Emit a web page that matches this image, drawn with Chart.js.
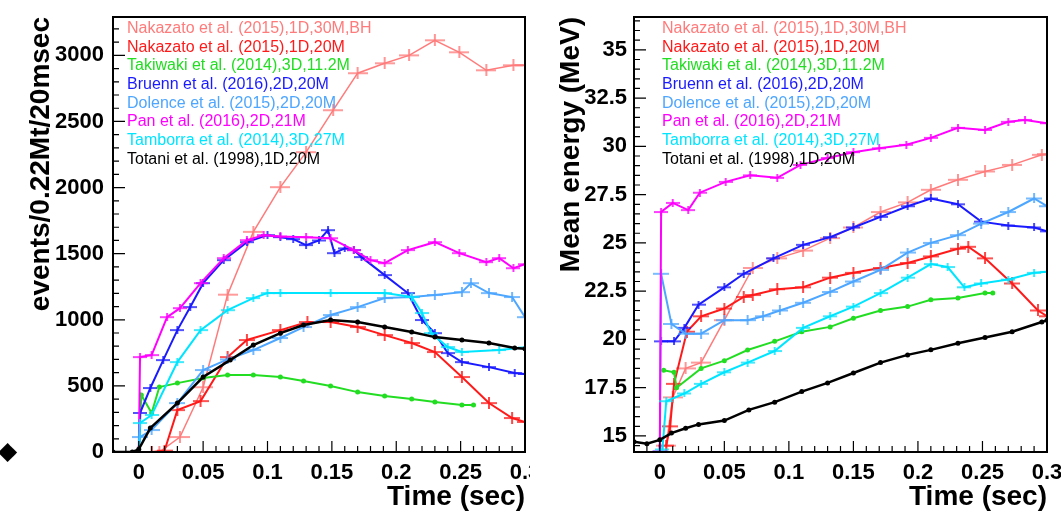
<!DOCTYPE html>
<html><head><meta charset="utf-8">
<script src="https://cdn.jsdelivr.net/npm/chart.js@4/dist/chart.umd.min.js"></script>
<style>
html,body{margin:0;padding:0;background:#fff;width:1061px;height:515px;overflow:hidden;position:relative}
#c1{position:absolute;left:0;top:0}
#c2{position:absolute;left:530px;top:0}
#dia{position:absolute;left:-2px;top:436px;font:25px "DejaVu Sans";color:#000;line-height:30px}
</style></head><body>
<canvas id="c1" width="530" height="515"></canvas>
<canvas id="c2" width="531" height="515"></canvas>
<div id="dia">◆</div>
<script>
// ---------- labels / colours ----------
const seriesLabels = ["Nakazato et al. (2015),1D,30M,BH","Nakazato et al. (2015),1D,20M","Takiwaki et al. (2014),3D,11.2M","Bruenn et al. (2016),2D,20M","Dolence et al. (2015),2D,20M","Pan et al. (2016),2D,21M","Tamborra et al. (2014),3D,27M","Totani et al. (1998),1D,20M"];
const seriesColors = ["#ff7b7b","#ff1a1a","#22dd22","#1a1aff","#4da6ff","#ff00ff","#00e5ff","#000000"];

// ---------- axes ----------
const xTicks = [0,0.05,0.1,0.15,0.2,0.25,0.3];
const xTickLabels = ["0","0.05","0.1","0.15","0.2","0.25","0.3"];
const rateTicks = [0,500,1000,1500,2000,2500,3000];
const rateTickLabels = ["0","500","1000","1500","2000","2500","3000"];
const energyTicks = [15,17.5,20,22.5,25,27.5,30,32.5,35];
const energyTickLabels = ["15","17.5","20","22.5","25","27.5","30","32.5","35"];

// ---------- left panel: events / 0.22Mt / 20 msec ----------
const rNak30T = [0.0,0.016,0.032,0.05,0.069,0.089,0.11,0.13,0.151,0.17,0.191,0.21,0.23,0.249,0.27,0.291,0.3];
const rNak30V = [0,0,113,490,1190,1665,2003,2268,2585,2865,2940,3000,3114,3023,2887,2925,2925];
const rNak20T = [0,0.01,0.02,0.03,0.048,0.069,0.084,0.11,0.131,0.149,0.17,0.191,0.212,0.23,0.251,0.272,0.29,0.3];
const rNak20V = [0,0,10,317,385,718,847,922,983,983,945,884,824,756,567,370,257,227];
const rTakT = [0,0.002,0.01,0.016,0.03,0.05,0.069,0.089,0.11,0.128,0.149,0.17,0.191,0.212,0.23,0.251,0.26];
const rTakV = [0,431,295,491,521,559,582,582,567,537,499,453,423,400,378,355,355];
const rBruT = [0,0.001,0.009,0.019,0.03,0.04,0.05,0.066,0.084,0.1,0.11,0.12,0.13,0.14,0.147,0.152,0.16,0.167,0.173,0.191,0.209,0.22,0.23,0.24,0.251,0.272,0.292,0.3];
const rBruV = [0,295,484,695,922,1096,1277,1451,1587,1640,1625,1610,1565,1600,1678,1504,1540,1527,1474,1338,1202,998,899,748,680,642,597,590];
const rDolT = [0,0.001,0.01,0.03,0.05,0.069,0.089,0.11,0.128,0.149,0.17,0.191,0.212,0.23,0.251,0.258,0.272,0.29,0.3];
const rDolV = [0,113,166,370,620,700,771,862,945,1036,1096,1164,1172,1187,1209,1277,1202,1172,1020];
const rPanT = [0,0.001,0.01,0.022,0.032,0.048,0.066,0.084,0.097,0.11,0.13,0.149,0.167,0.18,0.191,0.209,0.23,0.249,0.27,0.28,0.291,0.3];
const rPanV = [0,718,733,1020,1088,1277,1466,1602,1640,1630,1625,1617,1527,1451,1428,1527,1587,1504,1436,1466,1390,1420];
const rTamT = [0,0.001,0.01,0.03,0.048,0.069,0.089,0.1,0.11,0.149,0.191,0.212,0.22,0.227,0.24,0.251,0.28,0.3];
const rTamV = [0,219,280,680,922,1073,1164,1202,1202,1202,1202,1172,1051,899,794,756,771,790];
const rTotT = [-0.02,-0.005,0,0.009,0.03,0.05,0.071,0.089,0.11,0.128,0.149,0.17,0.191,0.212,0.23,0.251,0.272,0.292,0.3];
const rTotV = [0,0,20,181,370,567,695,809,899,960,998,983,945,907,869,847,824,786,780];

// ---------- right panel: mean energy (MeV) ----------
const eNak30T = [0.005,0.01,0.02,0.032,0.05,0.072,0.091,0.111,0.132,0.15,0.171,0.192,0.21,0.231,0.252,0.273,0.296,0.3];
const eNak30V = [14.5,17.0,18.5,18.8,21.0,23.7,24.2,24.6,25.25,25.8,26.6,27.1,27.75,28.27,28.7,29.04,29.56,29.6];
const eNak20T = [0.005,0.008,0.011,0.021,0.032,0.05,0.065,0.072,0.091,0.111,0.132,0.15,0.171,0.192,0.21,0.231,0.239,0.252,0.273,0.293,0.3];
const eNak20V = [14.5,15.5,17.7,20.4,21.2,21.6,22.2,22.3,22.6,22.7,23.2,23.45,23.7,23.96,24.3,24.7,24.8,24.2,22.9,21.5,21.2];
const eTakT = [0.003,0.011,0.013,0.032,0.05,0.068,0.089,0.11,0.132,0.15,0.171,0.192,0.21,0.231,0.252,0.258];
const eTakV = [18.4,18.3,17.5,18.5,18.9,19.45,19.9,20.4,20.65,21.1,21.5,21.7,22.05,22.15,22.4,22.4];
const eBruT = [0.001,0.011,0.019,0.03,0.05,0.065,0.088,0.111,0.132,0.15,0.171,0.192,0.21,0.231,0.249,0.27,0.29,0.3];
const eBruV = [19.9,19.9,20.6,21.8,22.7,23.4,24.2,24.9,25.3,25.8,26.35,26.9,27.3,27.0,26.1,25.9,25.8,25.6];
const eDolT = [0.0,0.001,0.009,0.02,0.032,0.05,0.068,0.08,0.093,0.111,0.132,0.15,0.171,0.192,0.21,0.231,0.249,0.27,0.29,0.3];
const eDolV = [14.2,23.4,20.8,20.3,20.3,21.0,21.0,21.2,21.5,21.9,22.46,23.0,23.6,24.5,25.0,25.4,26.0,26.6,27.3,26.9];
const ePanT = [0.0,0.001,0.01,0.022,0.031,0.051,0.07,0.091,0.109,0.13,0.15,0.17,0.191,0.21,0.231,0.252,0.27,0.283,0.3];
const ePanV = [14.2,26.6,27.07,26.7,27.6,28.16,28.5,28.37,29.04,29.4,29.7,29.9,30.08,30.44,30.96,30.85,31.27,31.37,31.2];
const eTamT = [0.002,0.005,0.019,0.032,0.05,0.068,0.089,0.111,0.132,0.15,0.171,0.192,0.21,0.223,0.236,0.249,0.27,0.29,0.3];
const eTamV = [14.3,16.8,17.2,17.7,18.3,18.8,19.4,20.6,21.2,21.7,22.4,23.2,23.9,23.75,22.7,22.9,23.1,23.45,23.5];
const eTotT = [-0.02,-0.01,0.0,0.009,0.02,0.03,0.05,0.069,0.089,0.11,0.13,0.15,0.171,0.192,0.21,0.231,0.252,0.273,0.296,0.3];
const eTotV = [14.7,14.6,14.8,15.15,15.4,15.6,15.8,16.35,16.75,17.3,17.75,18.26,18.8,19.2,19.46,19.8,20.1,20.4,20.9,21.0];

const rateSeries = [[rNak30T,rNak30V],[rNak20T,rNak20V],[rTakT,rTakV],[rBruT,rBruV],[rDolT,rDolV],[rPanT,rPanV],[rTamT,rTamV],[rTotT,rTotV]];
const energySeries = [[eNak30T,eNak30V],[eNak20T,eNak20V],[eTakT,eTakV],[eBruT,eBruV],[eDolT,eDolV],[ePanT,ePanV],[eTamT,eTamV],[eTotT,eTotV]];

// ---------- styling ----------
const markerSize = [[20,12],[16,12],null,[14,8],[16,10],[14,8],[14,8],null];
const lineW = [1.5,2,2,2,2,2,2,2.5];

function crossImg(color,w,h){
  const c=document.createElement('canvas'); c.width=w; c.height=h;
  const g=c.getContext('2d'); g.strokeStyle=color; g.lineWidth=1.6;
  g.beginPath(); g.moveTo(0,h/2); g.lineTo(w,h/2); g.moveTo(w/2,0); g.lineTo(w/2,h); g.stroke();
  return c;
}

function buildDatasets(series){
  return series.map((s,i)=>{
    const ms = markerSize[i];
    return {
      label: seriesLabels[i],
      data: s[0].map((t,k)=>({x:t,y:s[1][k]})),
      borderColor: seriesColors[i],
      backgroundColor: seriesColors[i],
      borderWidth: lineW[i],
      pointStyle: ms ? crossImg(seriesColors[i],ms[0],ms[1]) : 'circle',
      pointRadius: ms ? 4 : 2.5,
      pointBorderWidth: 0,
      tension: 0,
      order: 7-i
    };
  });
}

const textLegend = {
  id:'textLegend',
  afterDatasetsDraw(chart,args,o){
    const ctx=chart.ctx,a=chart.chartArea;
    ctx.save();
    ctx.font='16px "Liberation Sans", Arial, sans-serif';
    ctx.textBaseline='middle'; ctx.textAlign='left';
    chart.data.datasets.forEach((ds,i)=>{
      ctx.fillStyle=ds.borderColor;
      ctx.fillText(ds.label,a.left+o.dx,a.top+o.dy+i*o.step);
    });
    ctx.restore();
  }
};

const frameTicks = {
  id:'frameTicks',
  afterDatasetsDraw(chart,args,o){
    const ctx=chart.ctx,a=chart.chartArea,x=chart.scales.x,y=chart.scales.y;
    ctx.save();
    ctx.strokeStyle='#000'; ctx.lineWidth=1.2;
    ctx.beginPath();
    const ny=Math.round((o.yTop-o.yStart)/o.yMinor);
    for(let k=0;k<=ny;k++){
      const v=o.yStart+k*o.yMinor;
      if(v<y.min||v>y.max) continue;
      const r=v/o.yMajor; const major=Math.abs(r-Math.round(r))<1e-6;
      const p=y.getPixelForValue(v);
      ctx.moveTo(a.left,p); ctx.lineTo(a.left+(major?12:6),p);
    }
    const nx=Math.round((0.3-(-0.02))/0.01);
    for(let k=0;k<=nx;k++){
      const v=-0.02+k*0.01;
      const r=v/0.05; const major=Math.abs(r-Math.round(r))<1e-6;
      const p=x.getPixelForValue(v);
      ctx.moveTo(p,a.bottom); ctx.lineTo(p,a.bottom-(major?11:6));
    }
    ctx.stroke();
    ctx.lineWidth=2;
    ctx.strokeRect(a.left,a.top,a.right-a.left,a.bottom-a.top);
    ctx.restore();
  }
};

const tickFont={family:'"Liberation Sans", Arial, sans-serif',size:22,weight:'bold'};
const titleFont={family:'"Liberation Sans", Arial, sans-serif',size:28,weight:'bold'};

function makeChart(id,series,yMin,yMax,yTicks,yLabels,yTitle,yW,yPad,padRight,legendDx,fr){
  return new Chart(document.getElementById(id),{
    type:'line',
    data:{datasets:buildDatasets(series)},
    options:{
      responsive:false,animation:false,devicePixelRatio:1,
      layout:{padding:{left:0,right:padRight,top:17,bottom:0}},
      plugins:{legend:{display:false},tooltip:{enabled:false},
        textLegend:{dx:legendDx,dy:11.5,step:18.7},
        frameTicks:fr},
      scales:{
        x:{type:'linear',min:-0.02,max:0.3,
          afterBuildTicks:s=>{s.ticks=xTicks.map(v=>({value:v}));},
          afterFit:s=>{s.height=63;s.paddingLeft=0;s.paddingRight=0;},
          ticks:{autoSkip:false,maxRotation:0,minRotation:0,padding:8,color:'#000',font:tickFont,
            callback:(v,i)=>xTickLabels[i]},
          grid:{display:false,drawTicks:false},border:{display:false},
          title:{display:true,text:'Time (sec)',align:'end',color:'#000',font:titleFont,padding:{top:0,bottom:1}}
        },
        y:{type:'linear',min:yMin,max:yMax,
          afterBuildTicks:s=>{s.ticks=yTicks.map(v=>({value:v}));},
          afterFit:s=>{s.width=yW;s.paddingTop=0;s.paddingBottom=0;},
          ticks:{autoSkip:false,padding:yPad,color:'#000',font:tickFont,
            callback:(v,i)=>yLabels[i]},
          grid:{display:false,drawTicks:false},border:{display:false},
          title:{display:true,text:yTitle,align:'end',color:'#000',font:titleFont,padding:{top:24,bottom:0}}
        }
      }
    },
    plugins:[textLegend,frameTicks]
  });
}

makeChart('c1',rateSeries,0,3290,rateTicks,rateTickLabels,'events/0.22Mt/20msec',113,9,5,14,
  {yStart:0,yTop:3200,yMinor:100,yMajor:500});
makeChart('c2',energySeries,14.17,36.7,energyTicks,energyTickLabels,'Mean energy (MeV)',104,7,14,28,
  {yStart:14.5,yTop:36.5,yMinor:0.5,yMajor:2.5});
</script>
</body></html>
